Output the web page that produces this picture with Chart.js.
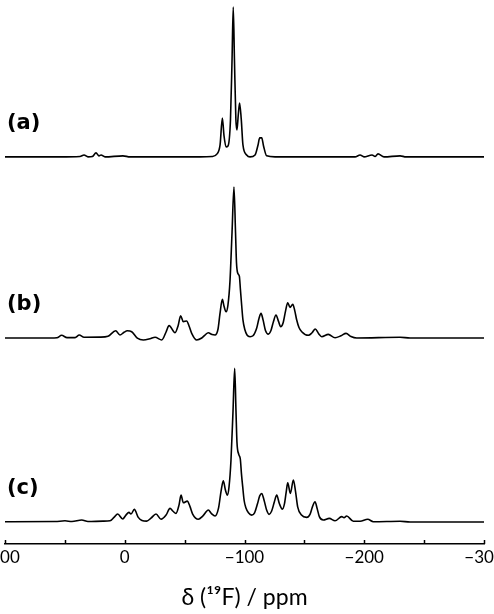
<!DOCTYPE html>
<html>
<head>
<meta charset="utf-8">
<script src="https://cdn.jsdelivr.net/npm/chart.js@4/dist/chart.umd.min.js"></script>
<style>
html,body{margin:0;padding:0;background:#fff;overflow:hidden;}
#wrap{position:absolute;left:-30px;top:0;width:560px;height:614px;}
</style>
</head>
<body>
<div id="wrap"><canvas id="c"></canvas></div>
<script>
// 19F spectra, shift in ppm and relative intensity (tallest peak = 100)
const TRACE_LABELS=['(a)','(b)','(c)'];
const X_TICKS=[100,50,0,-50,-100,-150,-200,-250,-300];

const PPM_A=[100,54.1,37.4,34.0,30.7,27.0,24.0,21.5,19.8,16.5,1.5,-4.4,-62.8,-72.9,-77.1,-79.6,-81.5,-82.9,-84.6,-86.2,-88.3,-89.6,-90.6,-91.6,-92.8,-93.7,-94.8,-95.9,-97.3,-98.7,-101.8,-104.6,-108.8,-111.3,-112.7,-114.4,-115.9,-118.5,-125.5,-192.3,-196.5,-199.8,-206.5,-209.0,-211.5,-216.5,-229.9,-234.9,-300];
const INT_A=[0,0,0.3,1.3,0,0.3,2.7,0.7,1.3,0,0.7,0,0,0.3,2,8,26,14,6.7,7.3,25,65,100,65,25,18,28,36,25,8,1.3,0,1.3,8,12.7,12.7,7.3,0.7,0,0,1.3,0,1.3,0.3,2,0,0.7,0,0];

const PPM_B=[100,62.4,56.6,52.7,48.2,41.5,38.0,34.0,20.7,14.0,7.6,4.0,0.6,-2.1,-5.8,-10.5,-15.5,-21.1,-25.3,-30.9,-34.5,-37.0,-42.0,-44.5,-46.7,-48.9,-51.7,-53.7,-55.9,-60.1,-64.3,-67.0,-69.8,-72.9,-75.4,-77.9,-79.5,-81.5,-82.9,-84.6,-86.2,-87.9,-89.6,-91.2,-92.5,-93.3,-94.3,-95.7,-96.6,-97.7,-98.7,-100.4,-102.1,-104.6,-107.1,-110.2,-112.1,-113.8,-115.5,-117.5,-119.9,-122.1,-124.2,-126.3,-128.4,-130.2,-132.2,-134.3,-136.1,-138.0,-140.3,-142.0,-143.6,-145.5,-147.8,-153.3,-156.4,-159.1,-161.8,-164.5,-170.0,-175.6,-180.6,-184.8,-188.9,-193.7,-229.9,-238.3,-300];
const INT_B=[0,0,0.2,1.8,0.3,0.3,2.0,0.5,0.6,1.2,4.8,2.0,3.8,4.8,4.2,0,-1.3,-0.5,0.5,-1.3,4,8.2,3.5,8,14.8,10.8,11.3,8,3.1,-1.3,0,2,3.5,2.3,2,6,16,25.6,21,17.4,22,38,70,100,70,50,43,41,32,21,12,5.3,2,0.9,1.5,6.6,13,16.3,12,5,2.6,5,11,15.2,11,7.5,10,18,23.4,20.3,22.3,18,11.9,7,4.2,1.8,3.5,6,3,0.9,2.4,0.2,1.5,3.1,1,0,0.5,0,0];

const PPM_C=[100,58.2,49.9,44.1,35.9,30.7,18.2,12.3,9.0,5.9,1.7,-1.0,-3.5,-5.2,-8.0,-11.3,-14.4,-18.3,-21.9,-26.1,-30.3,-34.5,-37.8,-40.3,-42.8,-45.3,-47.0,-48.9,-52.2,-54.5,-56.7,-61.4,-65.3,-69.8,-72.4,-75.4,-78.3,-80.4,-82.3,-84.0,-85.7,-87.1,-88.7,-90.4,-91.8,-92.9,-93.7,-95.2,-96.5,-97.5,-98.5,-99.7,-101.3,-103.3,-106.0,-108.4,-110.9,-112.7,-114.4,-116.4,-118.4,-120.5,-122.6,-124.9,-126.9,-129.1,-131.6,-133.4,-134.9,-136.1,-138.3,-140.8,-142.6,-144.4,-147.6,-151.9,-154.7,-156.8,-158.9,-160.6,-162.5,-165.8,-170.8,-175.6,-181.2,-183.1,-185.3,-190.9,-196.5,-202.9,-207.6,-229.9,-238.3,-300];
const INT_C=[0.2,0.3,0.8,0.3,1.3,0.3,0.6,0.8,3,5.2,2,4.5,6.3,5.2,8.2,3,1,0.6,2.5,5.2,1.8,4.5,8.9,7,5.6,11,17.5,12.5,13.6,10,5.2,1.8,4,7.8,5.5,3.9,9,20,26.8,21,17.5,23,40,72,100,72,52,44,41,31,23,14,8.9,6,4.5,6,12,17,18.6,14,8,5,7,13,17.5,12,8.4,12,20,25.5,18.6,27.3,20,9.9,4.5,3,5,10,13.2,9,3.5,1.3,2.4,0.8,3.5,2.8,3.9,0.5,0.5,1.8,0.2,0.5,0,0];

function toPoints(xs,ys){ return xs.map((x,i)=>({x:x,y:ys[i]})); }

function fmtTick(v){
  if(v%100!==0) return '';
  if(v<0) return '\u2212'+Math.abs(v);
  return String(v);
}

const inwardTicks={
  id:'inwardTicks',
  afterDraw(chart){
    const xs=chart.scales.x;
    const {ctx}=chart;
    ctx.save();
    ctx.strokeStyle='#000';
    ctx.lineWidth=1.5;
    xs.ticks.forEach(t=>{
      const px=Math.round(xs.getPixelForValue(t.value))+0.5;
      ctx.beginPath();
      ctx.moveTo(px,xs.top);
      ctx.lineTo(px,xs.top-4);
      ctx.stroke();
    });
    ctx.restore();
  }
};

const traceLabels={
  id:'traceLabels',
  afterDraw(chart){
    const {ctx,chartArea}=chart;
    ctx.save();
    ctx.fillStyle='#000';
    ctx.font='bold 21px "DejaVu Sans"';
    ctx.textBaseline='middle';
    ctx.textAlign='left';
    ['ya','yb','yc'].forEach((id,i)=>{
      const y=chart.scales[id].getPixelForValue(22);
      ctx.fillText(TRACE_LABELS[i],chartArea.left+2,y);
    });
    ctx.restore();
  }
};

const lineStyle={borderColor:'#000',borderWidth:1.6,pointRadius:0,fill:false,cubicInterpolationMode:'monotone'};

new Chart(document.getElementById('c').getContext('2d'),{
  type:'line',
  data:{
    datasets:[
      {...lineStyle,label:TRACE_LABELS[0],data:toPoints(PPM_A,INT_A),yAxisID:'ya'},
      {...lineStyle,label:TRACE_LABELS[1],data:toPoints(PPM_B,INT_B),yAxisID:'yb'},
      {...lineStyle,label:TRACE_LABELS[2],data:toPoints(PPM_C,INT_C),yAxisID:'yc'}
    ]
  },
  options:{
    responsive:true,
    maintainAspectRatio:false,
    animation:false,
    layout:{padding:{left:35,right:46,top:5,bottom:0}},
    plugins:{legend:{display:false},tooltip:{enabled:false}},
    scales:{
      x:{
        type:'linear',
        reverse:true,
        min:-300,
        max:100,
        afterBuildTicks(scale){ scale.ticks=X_TICKS.map(v=>({value:v})); },
        grid:{display:true,drawOnChartArea:false,drawTicks:false},
        border:{display:true,color:'#000',width:1.5},
        ticks:{autoSkip:false,maxRotation:0,padding:3,color:'#000',font:{family:'Lato',size:17},callback:fmtTick},
        title:{display:true,text:'\u03b4 (\u00b9\u2079F) / ppm',color:'#000',font:{family:'Lato',size:23},padding:{top:13,bottom:3}}
      },
      // stacked left axes are laid out last-defined on top
      yc:{type:'linear',position:'left',stack:'traces',stackWeight:1,min:-14.3,max:102.6,display:false},
      yb:{type:'linear',position:'left',stack:'traces',stackWeight:1,min:-17.4,max:101.5,display:false},
      ya:{type:'linear',position:'left',stack:'traces',stackWeight:1,min:-18.5,max:101.3,display:false}
    }
  },
  plugins:[inwardTicks,traceLabels]
});
</script>
</body>
</html>
